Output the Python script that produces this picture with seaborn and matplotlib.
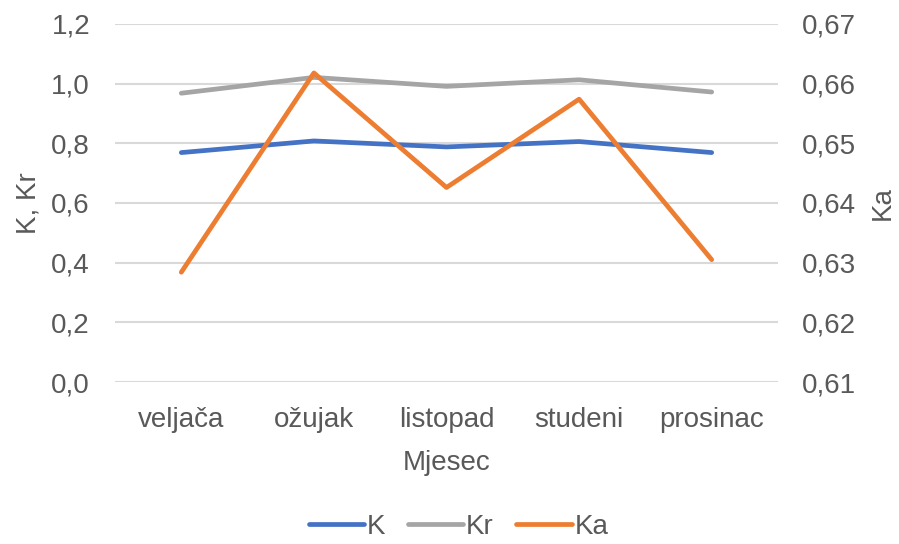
import matplotlib

matplotlib.use("Agg")
import matplotlib.pyplot as plt
import pandas as pd
import seaborn as sns

months = ["veljača", "ožujak", "listopad", "studeni", "prosinac"]
k_vals = [0.769, 0.808, 0.788, 0.806, 0.769]
kr_vals = [0.968, 1.021, 0.991, 1.013, 0.972]
ka_vals = [0.6284, 0.6618, 0.6426, 0.6574, 0.6305]

left_ticks = [0.0, 0.2, 0.4, 0.6, 0.8, 1.0, 1.2]
right_ticks = [0.61, 0.62, 0.63, 0.64, 0.65, 0.66, 0.67]

sns.set_theme(style="white")
plt.rcParams["font.family"] = ["Liberation Sans", "DejaVu Sans"]

TXT = "#595959"
df = pd.DataFrame({"Mjesec": months, "K": k_vals, "Kr": kr_vals, "Ka": ka_vals})

fig = plt.figure(figsize=(8.99, 5.44), dpi=100)
ax = fig.add_axes([115 / 899, 1 - 382 / 544, (778 - 115) / 899, (382 - 24) / 544])
ax2 = ax.twinx()

sns.lineplot(data=df, x="Mjesec", y="K", ax=ax, color="#4472C4", lw=3.4, label="K", legend=False)
sns.lineplot(data=df, x="Mjesec", y="Kr", ax=ax, color="#A5A5A5", lw=3.4, label="Kr", legend=False)
sns.lineplot(data=df, x="Mjesec", y="Ka", ax=ax2, color="#ED7D31", lw=3.4, label="Ka", legend=False)

ax.set_xlim(-0.5, len(months) - 0.5)
ax.set_ylim(0, 1.2)
ax2.set_ylim(0.61, 0.67)
ax.set_yticks(left_ticks)
ax.set_yticklabels([f"{v:.1f}".replace(".", ",") for v in left_ticks])
ax2.set_yticks(right_ticks)
ax2.set_yticklabels([f"{v:.2f}".replace(".", ",") for v in right_ticks])

ax.grid(axis="y", color="#D9D9D9", lw=1.5)
ax.set_axisbelow(True)
for a in (ax, ax2):
    for s in a.spines.values():
        s.set_visible(False)
    a.tick_params(length=0, labelsize=20, colors=TXT)
ax.tick_params(axis="y", pad=18)
ax.tick_params(axis="x", pad=18)
ax2.tick_params(axis="y", pad=17)

ax.set_xlabel("Mjesec", fontsize=20, color=TXT, labelpad=12)
ax.set_ylabel("K, Kr", fontsize=20, color=TXT, labelpad=7)
ax2.set_ylabel("Ka", fontsize=20, color=TXT, labelpad=10)

h1, l1 = ax.get_legend_handles_labels()
h2, l2 = ax2.get_legend_handles_labels()
fig.legend(h1 + h2, l1 + l2, loc="center", bbox_to_anchor=(0.51, 1 - 527 / 544),
           ncol=3, frameon=False, fontsize=20, labelcolor=TXT,
           handlelength=2.0, handletextpad=0.1, columnspacing=0.8)

fig.savefig("out.png", dpi=100)
plt.close(fig)
